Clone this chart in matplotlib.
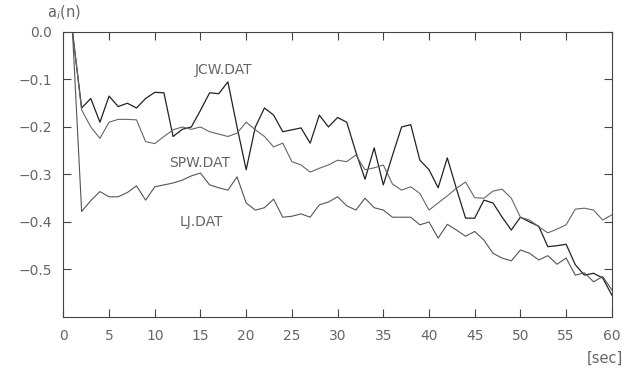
import numpy as np
import matplotlib
matplotlib.use('Agg')
import matplotlib.pyplot as plt

# time axis (sec)
t = np.arange(1, 61)

jcw = [0.0, -0.16, -0.14, -0.19, -0.135, -0.157, -0.15, -0.16, -0.14, -0.127,
       -0.128, -0.22, -0.205, -0.20, -0.165, -0.128, -0.13, -0.105, -0.20, -0.29,
       -0.20, -0.16, -0.175, -0.21, -0.206, -0.202, -0.234, -0.175, -0.20, -0.18,
       -0.19, -0.253, -0.31, -0.244, -0.322, -0.26, -0.20, -0.195, -0.27, -0.29,
       -0.328, -0.265, -0.33, -0.392, -0.392, -0.354, -0.36, -0.39, -0.417, -0.39,
       -0.40, -0.409, -0.452, -0.45, -0.447, -0.49, -0.512, -0.508, -0.518, -0.554]

spw = [0.0, -0.164, -0.20, -0.224, -0.19, -0.184, -0.184, -0.185, -0.231, -0.235,
       -0.22, -0.206, -0.20, -0.205, -0.20, -0.21, -0.215, -0.22, -0.213, -0.19,
       -0.206, -0.22, -0.242, -0.234, -0.273, -0.28, -0.295, -0.287, -0.28, -0.27,
       -0.273, -0.259, -0.29, -0.286, -0.28, -0.32, -0.333, -0.326, -0.34, -0.375,
       -0.36, -0.345, -0.329, -0.316, -0.349, -0.35, -0.335, -0.331, -0.35, -0.39,
       -0.396, -0.41, -0.423, -0.415, -0.406, -0.373, -0.371, -0.375, -0.396, -0.385]

lj = [0.0, -0.378, -0.355, -0.336, -0.347, -0.347, -0.338, -0.324, -0.354, -0.326,
      -0.322, -0.318, -0.312, -0.303, -0.297, -0.322, -0.328, -0.333, -0.305, -0.36,
      -0.375, -0.37, -0.352, -0.39, -0.388, -0.383, -0.39, -0.364, -0.358, -0.347,
      -0.366, -0.375, -0.35, -0.37, -0.375, -0.39, -0.39, -0.39, -0.406, -0.40,
      -0.434, -0.405, -0.417, -0.43, -0.42, -0.438, -0.466, -0.476, -0.482, -0.459,
      -0.466, -0.48, -0.471, -0.489, -0.476, -0.512, -0.507, -0.526, -0.515, -0.543]

xticks = list(range(0, 61, 5))
yticks = [0.0, -0.1, -0.2, -0.3, -0.4, -0.5]
ylabels = ['0.0', '\u22120.1', '\u22120.2', '\u22120.3', '\u22120.4', '\u22120.5']

txt = '#666666'
fig = plt.figure(figsize=(6.4, 3.72), dpi=100)
ax = fig.add_axes([0.099, 0.148, 0.857, 0.766])

ax.plot(t, jcw, color='#222222', lw=0.9)
ax.plot(t, spw, color='#666666', lw=0.8)
ax.plot(t, lj, color='#555555', lw=0.8)

ax.text(14.4, -0.08, 'JCW.DAT', color=txt, fontsize=10, va='center')
ax.text(11.6, -0.276, 'SPW.DAT', color=txt, fontsize=10, va='center')
ax.text(12.7, -0.40, 'LJ.DAT', color=txt, fontsize=10, va='center')

ax.set_xlim(0, 60)
ax.set_ylim(-0.6, 0.0)
ax.set_xticks(xticks)
ax.set_yticks(yticks)
ax.set_yticklabels(ylabels)
ax.tick_params(direction='in', top=True, right=True, length=6, width=0.8,
               colors='#444444', labelcolor=txt, labelsize=10)
ax.tick_params(axis='x', pad=9)
ax.tick_params(axis='y', pad=8)
for s in ax.spines.values():
    s.set_color('#444444')
    s.set_linewidth(0.8)

fig.text(47 / 640, 1 - 13 / 372, r'a$_i$(n)', color=txt, fontsize=10.5, va='center')
fig.text(587 / 640, 1 - 358 / 372, '[sec]', color=txt, fontsize=10.5, va='center')

fig.savefig('out.png', dpi=100)
